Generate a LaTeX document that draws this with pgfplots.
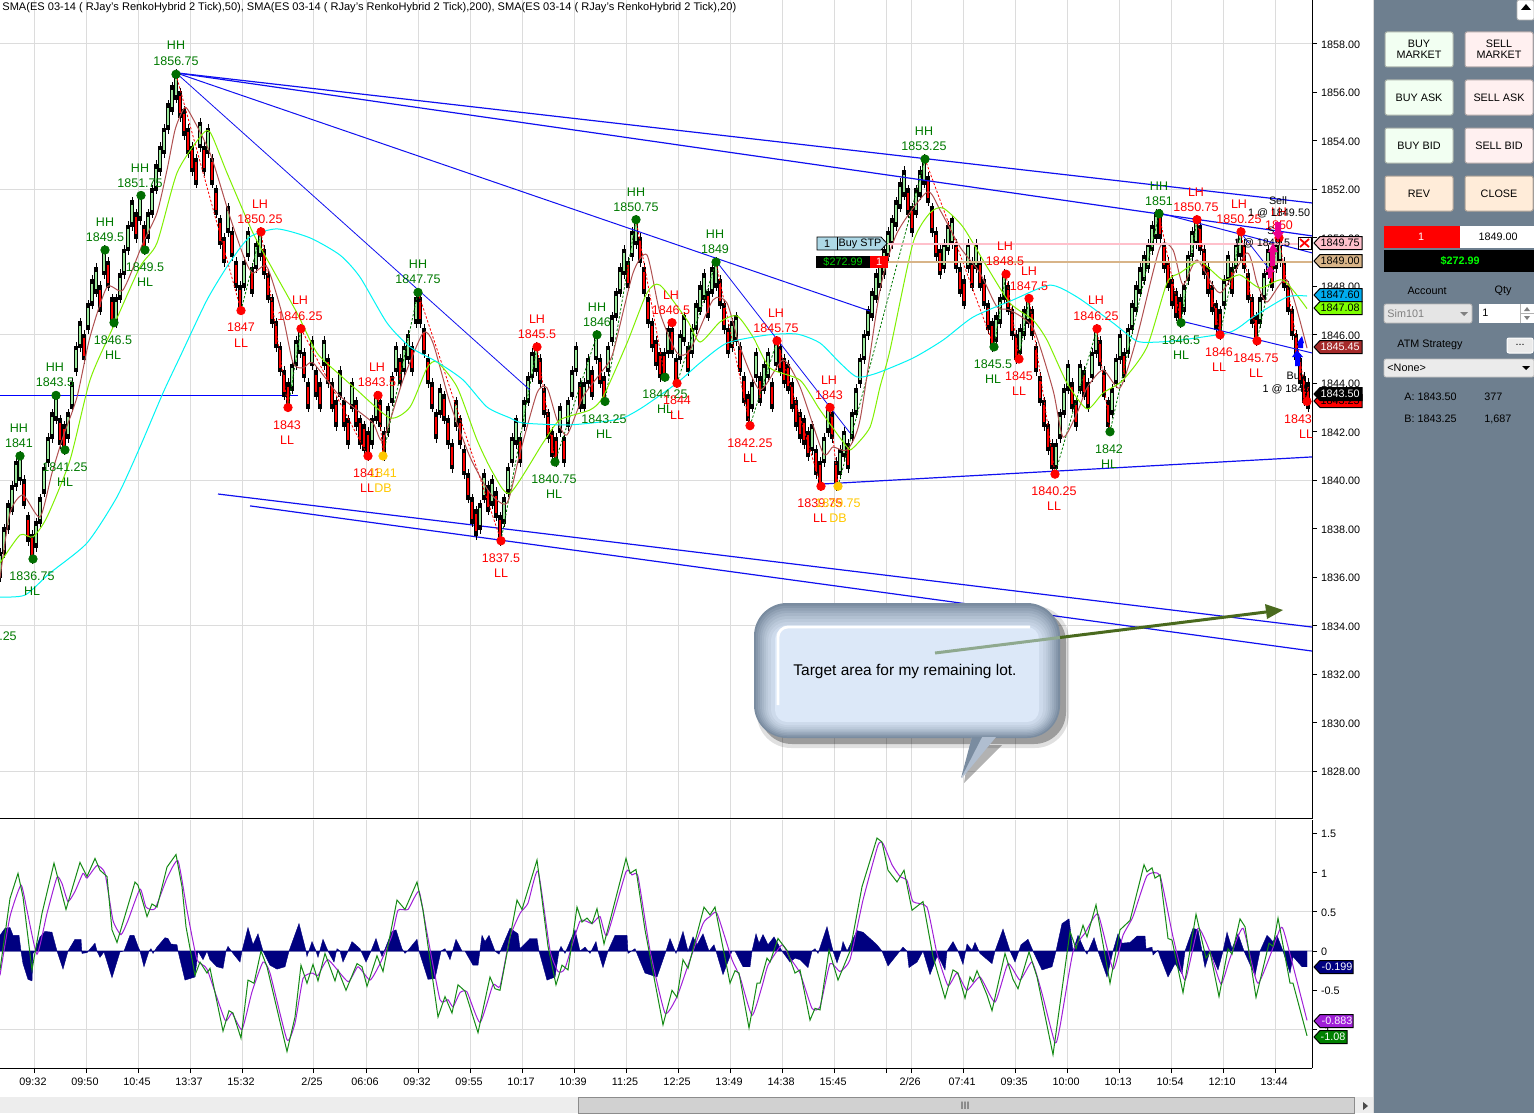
\documentclass[border=0pt]{standalone}
\usepackage{pgfplots}
\usepackage{pgfplotstable}
\usepackage{fontspec}
\setmainfont{Liberation Sans}
\pgfplotsset{compat=1.18}
\definecolor{gridc}{HTML}{DCDCDC}
\definecolor{hh}{HTML}{007A00}
\definecolor{ll}{HTML}{FF0000}
\definecolor{db}{HTML}{FFC800}
\definecolor{mk}{HTML}{006E00}
\definecolor{upc}{HTML}{9BE89B}
\definecolor{brownl}{HTML}{B05050}
\definecolor{limel}{HTML}{80F000}
\definecolor{cyanl}{HTML}{00F5F5}
\definecolor{bluel}{HTML}{1010F0}
\definecolor{navyh}{HTML}{000080}
\definecolor{purp}{HTML}{A020D8}
\definecolor{greenl}{HTML}{158A15}
\definecolor{zero}{HTML}{C4C4D8}
\definecolor{panel}{HTML}{6E7F8F}
\definecolor{bubo}{HTML}{7A8CA0}
\definecolor{bubi}{HTML}{DCE8F8}
\definecolor{pinkl}{HTML}{FFC0CB}
\definecolor{tanl}{HTML}{D8B488}
\definecolor{browntag}{HTML}{A52A2A}
\definecolor{lblue}{HTML}{ADD8E6}
\definecolor{arrowg}{HTML}{4A6A1E}
\definecolor{arrowp}{HTML}{8FA98F}
\definecolor{limetag}{HTML}{7FFF00}

% renko bars, x in bar position on the time axis, p in index points
\pgfplotstableread[row sep=\\]{x p\\
0 1836.5\\4 1837.5\\8 1838.5\\12 1839.25\\16 1840.25\\20 1840.5\\
36 1837.75\\40 1838.75\\44 1840\\48 1841.25\\52 1842.25\\56 1843\\
68 1842.25\\72 1843.5\\76 1845\\80 1846\\88 1846.75\\92 1847.75\\96 1848.25\\104 1849\\
116 1847\\120 1848\\124 1849\\128 1850\\132 1851\\140 1851.25\\
148 1850.5\\152 1851.5\\156 1852.5\\160 1853.25\\164 1854\\168 1855\\172 1855.75\\176 1856.25\\
200 1854.25\\208 1854\\228 1850.75\\244 1848.5\\248 1849.75\\256 1849.25\\260 1849.75\\
292 1844.25\\296 1845.25\\300 1845.75\\312 1845.25\\324 1845.25\\340 1844\\352 1843.5\\
372 1842\\376 1843\\388 1842.5\\392 1843.75\\396 1845\\404 1845\\408 1845.5\\416 1847\\
440 1843.25\\456 1842.75\\480 1838.5\\484 1839.75\\492 1839.5\\
504 1838.75\\508 1840\\512 1841.25\\516 1842\\524 1842.75\\528 1843.75\\532 1844.75\\536 1845\\
560 1842.5\\568 1842.75\\572 1844\\576 1845\\584 1843.5\\588 1844.5\\596 1845.5\\
608 1845\\612 1846.25\\616 1847.25\\620 1848.25\\624 1849\\632 1849.75\\636 1850.25\\
668 1845.75\\680 1845.5\\684 1846.25\\692 1845.75\\696 1846.75\\700 1847.5\\704 1848\\712 1848.25\\716 1848.5\\
732 1846\\736 1846.25\\752 1843.5\\756 1844.75\\764 1844.25\\768 1844.75\\776 1845.25\\
812 1841.75\\824 1841.25\\828 1842.5\\840 1840.75\\844 1841.5\\
852 1842.25\\856 1843.25\\860 1844.5\\864 1845.5\\868 1846.5\\872 1847.25\\876 1848\\880 1848.5\\884 1849\\888 1849.75\\892 1850.25\\896 1851\\900 1851.75\\904 1852.25\\
916 1851.5\\920 1852.25\\924 1852.75\\944 1849.25\\948 1850\\952 1850.25\\968 1849.25\\976 1849.25\\
996 1846.25\\1000 1847\\1004 1848\\1020 1845.75\\1024 1846.5\\1028 1847\\
1056 1841\\1060 1842.25\\1064 1843.25\\1068 1844.25\\1080 1844.25\\1092 1844.75\\1096 1845.75\\
1112 1843.25\\1116 1844.5\\1120 1845.5\\1128 1845.75\\1132 1846.75\\1136 1847.5\\1140 1848.25\\1144 1848.75\\1148 1849.25\\1152 1850\\1156 1850.5\\
1184 1847.5\\1188 1848.75\\1192 1849.75\\1196 1850.25\\1224 1847.75\\1228 1848.75\\1236 1849.25\\1240 1849.75\\
1260 1847\\1264 1848\\1268 1849\\1276 1849.25\\1280 1849.5\\
}\upbars
\pgfplotstableread[row sep=\\]{x p\\
24 1839.5\\28 1838\\32 1837.25\\60 1842\\64 1841.75\\84 1845.5\\100 1847.5\\108 1848.5\\112 1847\\136 1850.5\\144 1850\\
180 1855.5\\184 1854.75\\188 1854\\192 1853.25\\196 1852.75\\204 1853.25\\212 1852.75\\216 1851.5\\220 1850.25\\224 1849.5\\
232 1849.75\\236 1848.5\\240 1847.5\\252 1848.25\\264 1849\\268 1848\\272 1847\\276 1846\\280 1845\\284 1844\\288 1843.5\\
304 1844.75\\308 1843.5\\316 1844\\320 1843.5\\328 1844.5\\332 1843.5\\336 1842.75\\344 1842.75\\348 1842\\
356 1842.75\\360 1842\\364 1841.75\\368 1841.5\\380 1842.75\\384 1841.5\\400 1844.5\\412 1845\\
420 1847\\424 1845.75\\428 1844.5\\432 1843.5\\436 1842.25\\444 1843\\448 1842\\452 1841\\
460 1842\\464 1840.75\\468 1839.75\\472 1838.75\\476 1838.25\\488 1839.25\\496 1839\\500 1838\\
520 1841.25\\540 1844.5\\544 1843.25\\548 1842.25\\552 1841.5\\556 1841.25\\564 1841.25\\580 1843.5\\592 1844\\600 1844.5\\604 1843.75\\
628 1848.5\\640 1849.5\\644 1848.25\\648 1847\\652 1846\\656 1845.25\\660 1844.75\\664 1844.75\\672 1845.75\\676 1844.5\\688 1845\\708 1847.25\\
720 1847.75\\724 1846.75\\728 1845.75\\740 1845\\744 1843.75\\748 1843\\760 1843.75\\772 1843.5\\
780 1845\\784 1844.5\\788 1844.25\\792 1843.5\\796 1842.75\\800 1842.25\\804 1842\\808 1841.5\\816 1840.75\\820 1840.25\\832 1842.25\\836 1840.25\\848 1841\\
908 1851.5\\912 1850.75\\928 1852\\932 1850.75\\936 1849.75\\940 1849\\956 1849.25\\960 1848.25\\964 1847.75\\972 1848.5\\
980 1848.5\\984 1847.75\\988 1846.75\\992 1846\\1008 1847.5\\1012 1846.5\\1016 1845.5\\
1032 1846.5\\1036 1845\\1040 1843.75\\1044 1842.75\\1048 1841.75\\1052 1841\\1072 1843.5\\1076 1842.75\\1084 1844\\1088 1843.5\\
1100 1845.25\\1104 1844\\1108 1842.75\\1124 1844.75\\1160 1850.5\\1164 1849.25\\1168 1848.5\\1172 1847.75\\1176 1847.25\\1180 1847\\
1200 1850\\1204 1849\\1208 1848.25\\1212 1847.5\\1216 1846.75\\1220 1846.5\\1232 1848.25\\1244 1849.25\\1248 1848\\1252 1847\\1256 1846.25\\
1272 1848.5\\1284 1848.5\\1288 1847.5\\1292 1846.5\\1296 1845.5\\1300 1844.5\\1304 1843.75\\1308 1843.5\\
}\downbars

\pgfplotstableread[row sep=\\]{x p\\
0 1835.18\\25 1835.26\\50 1836.17\\87 1837.41\\117 1839.31\\140 1841.37\\163 1843.60\\180 1845.09\\207 1847.44\\230 1849.00\\250 1850.04\\277 1850.37\\310 1850.00\\340 1849.29\\360 1848.38\\387 1846.49\\410 1845.50\\437 1844.88\\463 1844.14\\487 1843.02\\510 1842.57\\523 1842.36\\567 1842.28\\600 1842.40\\623 1842.57\\643 1843.02\\677 1844.01\\700 1844.84\\727 1845.66\\767 1845.99\\797 1846.03\\820 1845.66\\840 1844.84\\857 1844.26\\877 1844.42\\913 1845.04\\943 1845.78\\973 1846.73\\1013 1847.44\\1050 1848.05\\1077 1847.56\\1113 1846.49\\1137 1845.74\\1157 1845.70\\1180 1845.78\\1230 1846.11\\1253 1846.73\\1287 1847.56\\1307 1847.60\\
}\smatwo
\pgfplotstableread[row sep=\\]{x p\\
0 1836.58\\20 1837.74\\33 1837.66\\47 1838.48\\70 1840.83\\90 1844.13\\113 1846.31\\140 1848.80\\157 1849.79\\177 1852.68\\200 1854.16\\210 1854.37\\227 1852.68\\253 1850.20\\273 1848.68\\297 1846.90\\317 1845.25\\340 1844.34\\357 1843.72\\390 1842.57\\410 1843.02\\427 1844.63\\437 1844.88\\457 1843.85\\477 1841.66\\493 1840.30\\510 1839.47\\543 1841.54\\560 1842.49\\590 1842.90\\603 1843.44\\627 1845.66\\647 1847.73\\660 1848.05\\687 1846.61\\700 1845.70\\720 1846.53\\737 1846.78\\753 1845.91\\770 1844.63\\800 1844.13\\820 1842.90\\847 1841.37\\853 1841.33\\870 1842.19\\880 1843.85\\890 1845.37\\913 1849.79\\930 1851.03\\943 1851.23\\963 1850.45\\987 1848.80\\1010 1847.31\\1033 1846.61\\1047 1845.78\\1067 1844.01\\1087 1842.94\\1103 1843.60\\1123 1844.13\\1147 1845.50\\1167 1848.14\\1180 1848.55\\1200 1849.01\\1223 1848.26\\1240 1848.47\\1260 1847.93\\1283 1848.26\\1307 1847.08\\
}\smafifty
\pgfplotstableread[row sep=\\]{x p\\
0 1835.96\\10 1838.65\\23 1839.39\\40 1838.48\\52 1840.30\\63 1841.78\\77 1843.43\\90 1845.91\\107 1847.97\\123 1847.85\\143 1849.79\\157 1851.03\\167 1852.8\\175 1854.45\\183 1855.28\\188 1855.28\\210 1853.50\\230 1850.86\\245 1849.09\\253 1848.55\\267 1848.80\\283 1846.73\\293 1844.84\\303 1844.63\\313 1844.84\\337 1843.60\\353 1843.02\\373 1842.36\\383 1841.66\\403 1844.13\\423 1846.07\\433 1845.66\\450 1843.19\\470 1840.96\\490 1839.47\\507 1839.06\\520 1841.12\\537 1843.60\\547 1843.81\\557 1842.49\\567 1841.87\\583 1843.44\\603 1844.55\\613 1845.25\\633 1848.55\\647 1849.29\\660 1846.90\\677 1845.25\\690 1845.37\\713 1847.44\\727 1847.31\\740 1845.50\\760 1843.72\\783 1844.96\\800 1843.85\\823 1841.12\\833 1841.37\\847 1841.25\\860 1842.49\\880 1847.85\\897 1850.20\\927 1851.89\\940 1851.15\\960 1849.62\\980 1848.55\\997 1847.15\\1010 1847.02\\1033 1846.28\\1053 1843.72\\1063 1841.78\\1077 1842.77\\1087 1843.81\\1103 1844.55\\1120 1843.81\\1137 1845.91\\1160 1849.62\\1173 1849.50\\1183 1848.06\\1197 1849.09\\1220 1847.73\\1247 1849.38\\1257 1848.14\\1267 1847.35\\1287 1848.26\\1307 1845.45\\
}\smatwenty

% oscillator panel
\pgfplotstableread[row sep=\\]{x v\\
0 .20\\5 .29\\10 .30\\13 .20\\19 .20\\21 0\\23 -.16\\28 -.36\\32 -.38\\33 -.03\\35 0\\40 .18\\45 .25\\52 .24\\57 0\\63 -.23\\68 0\\75 .15\\81 .15\\82 -.03\\87 -.02\\95 .10\\97 0\\100 -.08\\104 -.01\\112 -.34\\120 -.01\\124 0\\130 .20\\134 .20\\138 .06\\140 0\\144 -.20\\149 0\\151 .03\\153 -.03\\157 .05\\165 .17\\168 .16\\171 .09\\177 .08\\178 0\\185 -.37\\195 -.33\\198 0\\203 -.11\\207 0\\210 -.11\\217 -.2\\223 -.22\\226 0\\228 .06\\233 -.03\\240 -.14\\242 0\\248 .30\\253 .08\\258 .22\\263 0\\270 -.18\\277 -.23\\285 -.2\\289 0\\299 .35\\306 0\\307 -.07\\312 .12\\316 0\\318 -.08\\323 .15\\328 0\\334 -.14\\337 .03\\340 0\\343 -.14\\348 0\\352 .12\\360 .03\\366 -.14\\371 0\\376 .16\\380 0\\382 -.07\\392 .25\\396 .27\\402 .03\\405 -.03\\408 .01\\417 .15\\419 0\\428 -.36\\435 -.35\\441 0\\445 .03\\450 -.11\\456 .15\\462 0\\465 0\\473 -.18\\478 -.18\\482 .2\\485 .12\\489 .2\\495 0\\499 -.04\\
510 .29\\518 .22\\520 .03\\530 .16\\537 .16\\539 0\\547 -.37\\555 -.33\\559 0\\561 .06\\565 -.03\\575 .27\\580 0\\585 .05\\590 -.03\\596 .12\\598 0\\603 -.21\\608 0\\615 .2\\627 .2\\628 -.03\\635 .03\\645 -.28\\657 -.33\\666 0\\670 .16\\676 -.03\\683 .25\\688 0\\693 .18\\697 .08\\703 .22\\709 0\\714 .08\\716 0\\723 -.3\\732 0\\735 0\\743 -.2\\750 -.2\\752 0\\756 .22\\759 .1\\763 .21\\768 .08\\774 .18\\782 0\\790 -.14\\795 -.09\\800 -.11\\808 -.21\\812 0\\815 .03\\818 -.03\\827 .31\\833 0\\837 -.15\\841 0\\843 .12\\847 0\\857 .26\\863 .24\\877 .08\\882 0\\888 -.19\\898 -.03\\903 .05\\907 0\\909 -.21\\917 -.14\\923 0\\930 -.3\\937 -.07\\940 -.11\\945 -.24\\947 0\\953 .12\\958 0\\963 -.17\\967 .09\\972 .01\\975 .11\\980 -.03\\992 -.16\\995 0\\1003 .28\\1010 0\\1015 -.14\\1021 .08\\1028 .15\\1033 0\\1042 -.24\\1052 -.2\\1056 0\\1062 .35\\1069 .41\\1073 0\\1078 .2\\1085 0\\1087 -.04\\1094 .17\\1098 0\\1107 -.33\\1113 0\\1118 .22\\1122 .1\\1130 .11\\1137 .19\\1145 .19\\1146 .03\\1152 .05\\1153 -.05\\1158 .01\\1160 -.07\\1168 -.33\\1175 -.16\\1182 -.29\\1185 0\\1193 .29\\1198 .27\\1202 0\\1205 -.21\\1210 0\\1218 -.24\\1223 0\\1227 .24\\1232 .03\\1238 .22\\1244 0\\1255 -.31\\1260 0\\1267 .2\\1273 .12\\1277 .2\\1283 0\\1290 -.28\\1293 -.07\\1302 -.2\\1307 -.2\\
}\osch
\pgfplotstableread[row sep=\\]{x v\\
0 -.24\\10 .67\\18 .99\\23 .69\\32 -.24\\42 .48\\54 1.12\\66 .53\\80 1.13\\87 .95\\95 1.18\\100 1.03\\107 .95\\112 .27\\117 .11\\135 .88\\138 .84\\147 .44\\152 .6\\157 .56\\167 1.07\\176 1.23\\182 .82\\186 .31\\195 -.31\\200 -.14\\207 -.28\\210 -.22\\223 -1.02\\229 -.76\\233 -.79\\241 -1.11\\248 -.37\\254 -.41\\261 0\\267 -.2\\287 -1.28\\295 -.84\\301 -.18\\307 -.41\\313 -.17\\318 -.38\\325 -.03\\335 -.38\\338 -.24\\346 -.5\\357 -.16\\362 -.2\\367 -.45\\377 -.06\\383 -.26\\397 .65\\405 .53\\417 .88\\423 .52\\438 -.84\\445 -.58\\452 -.79\\458 -.43\\465 -.51\\478 -1.04\\490 -.33\\495 -.48\\500 -.5\\
517 .65\\522 .53\\537 1.16\\548 .06\\556 -.43\\562 -.18\\568 -.24\\577 .56\\582 .37\\587 .42\\592 .35\\597 .54\\604 .09\\626 1.18\\630 .99\\636 1.04\\645 .27\\663 -.94\\672 -.5\\677 -.59\\683 -.11\\688 -.22\\704 .56\\710 .46\\715 .56\\730 -.41\\735 -.25\\739 -.28\\749 -.98\\757 -.41\\760 -.41\\767 -.09\\770 -.14\\778 .16\\787 .01\\795 -.28\\800 -.24\\810 -.88\\815 -.73\\820 -.75\\829 .01\\838 -.37\\850 0\\862 .82\\877 1.44\\882 1.39\\888 1.03\\897 .88\\904 1.03\\912 .52\\923 .63\\933 -.07\\945 -.6\\953 -.24\\958 -.28\\965 -.6\\970 -.33\\973 -.39\\977 -.25\\987 -.56\\992 -.76\\1005 -.03\\1013 -.36\\1018 -.48\\1029 -.01\\1037 -.33\\1053 -1.32\\1070 .25\\1076 .03\\1083 .33\\1087 .18\\1096 .59\\1110 -.41\\1120 .27\\1130 .39\\1144 1.1\\1147 1.01\\1152 1.06\\1155 .93\\1160 .97\\1168 .16\\1172 .14\\1183 -.53\\1196 .47\\1206 -.09\\1210 -.01\\1219 -.58\\1228 .03\\1232 -.04\\1240 .41\\1245 .31\\1256 -.59\\1269 .1\\1273 .06\\1278 .42\\1290 -.41\\1293 -.41\\1307 -1.08\\
}\oscg
\pgfplotstableread[row sep=\\]{x v\\
0 -.31\\10 .44\\21 .84\\27 .52\\37 -.04\\47 .48\\57 .94\\62 .86\\68 .63\\75 .76\\83 .99\\87 .93\\97 1.09\\105 .99\\113 .39\\121 .21\\128 .39\\140 .79\\146 .56\\155 .54\\167 .93\\178 1.15\\187 .52\\197 -.11\\207 -.23\\225 -.88\\232 -.79\\242 -1\\252 -.52\\263 -.14\\270 -.28\\287 -1.13\\295 -.92\\303 -.35\\312 -.28\\318 -.31\\328 -.11\\348 -.39\\358 -.2\\370 -.37\\380 -.16\\392 .2\\398 .52\\408 .53\\419 .76\\427 .23\\440 -.62\\448 -.62\\453 -.71\\460 -.53\\467 -.52\\480 -.91\\493 -.43\\500 -.45\\
510 .18\\520 .48\\528 .61\\538 1.02\\550 .01\\558 -.26\\565 -.22\\580 .38\\592 .35\\600 .44\\607 .2\\626 1.01\\632 .97\\638 .95\\650 .01\\665 -.79\\677 -.58\\687 -.22\\703 .35\\710 .44\\717 .48\\732 -.11\\740 -.33\\752 -.82\\762 -.45\\768 -.18\\782 .08\\790 -.09\\800 -.28\\812 -.73\\820 -.71\\830 -.16\\840 -.26\\850 -.11\\863 .65\\878 1.35\\883 1.37\\892 1.1\\900 .95\\907 .9\\913 .63\\927 .56\\937 -.03\\948 -.44\\957 -.28\\967 -.5\\980 -.33\\995 -.65\\1008 -.16\\1020 -.37\\1032 -.14\\1042 -.54\\1055 -1.17\\1060 -.96\\1073 -.01\\1085 .23\\1098 .47\\1113 -.23\\1123 .2\\1133 .44\\1147 .96\\1160 .96\\1173 .18\\1185 -.37\\1198 .29\\1210 -.01\\1221 -.42\\1230 -.09\\1243 .29\\1258 -.41\\1280 .28\\1285 .2\\1307 -.883\\
}\oscp

\newcommand{\lf}{\fontsize{6.25}{7}\selectfont}
\newcommand{\tf}{\fontsize{5.4}{6}\selectfont}
\newcommand{\lab}[4]{\node[font=\lf,text=#3,inner sep=0pt] at (#1,#2) {#4};}
\newcommand{\two}[6]{\lab{#1}{#2}{#4}{#5}\lab{#1}{#3}{#4}{#6}}
\newcommand{\pricetag}[6]{\filldraw[fill=#3,draw=black,line width=0.5pt] (1314,#1) -- (1320,#1-6.5) -- (#2,#1-6.5) -- (#2,#1+6.5) -- (1320,#1+6.5) -- cycle;
 \node[font=\tf,text=#4,inner sep=0pt] at (#5,#1) {#6};}
\newcommand{\btn}[6]{\filldraw[fill=#5,draw=#5!70!black,line width=0.5pt,rounded corners=1pt] (#1,#2) rectangle (#3,#4);
 \node[font=\tf,align=center,text=black,inner sep=0pt] at ({(#1+#3)/2},{(#2+#4)/2}) {#6};}
\newcommand{\bub}[5]{\fill[#5,rounded corners=#4pt] (754+#1,603+#2) rectangle (1060-#1,738-#3);}

\begin{document}
\begin{tikzpicture}
\path[use as bounding box,fill=white] (0,0) rectangle (767pt,556.5pt);

% price panel
\begin{axis}[
  at={(0pt,147pt)},anchor=south west,scale only axis,width=656pt,height=409.5pt,
  xmin=0,xmax=1312,ymin=1826.02,ymax=1859.816,
  axis x line=bottom,axis y line=right,axis line style={black,line width=0.5pt,-},
  xtick={34,86,138,190,242,313,366,418,470,522,574,626,678,730,782,834,886,911,963,1015,1067,1119,1171,1223,1275},
  xticklabels={},xtick style={draw=none},
  xmajorgrids,grid style={gridc,line width=0.5pt},
  ytick={1828,1830,...,1858},
  yticklabels={1828.00,1830.00,1832.00,1834.00,1836.00,1838.00,1840.00,1842.00,1844.00,1846.00,1848.00,1850.00,1852.00,1854.00,1856.00,1858.00},
  ytick style={black,line width=0.5pt},major tick length=2.5pt,tick align=outside,
  yticklabel style={font=\tf,xshift=-1.5pt,yshift=-0.4pt},
  extra y ticks={1828,1834,1840,1846,1852,1858},extra y tick labels={},
  extra y tick style={ymajorgrids=true,grid style={gridc,line width=0.5pt},major tick length=0pt},
  clip=true]
 \addplot[blue,line width=0.6pt,forget plot] coordinates {(0,1843.5)(298,1843.5)};
 \addplot[bluel,line width=0.6pt,forget plot] coordinates {(218,1839.43)(1312,1833.94)};
 \addplot[bluel,line width=0.6pt,forget plot] coordinates {(250,1838.94)(1312,1832.95)};
 \addplot[draw=none,no markers,forget plot,error bars/.cd,y dir=both,y fixed=0.7,error mark=none,error bar style={black,line width=0.4pt}] table[x=x,y=p] {\upbars};
 \addplot[draw=none,no markers,forget plot,error bars/.cd,y dir=both,y fixed=0.7,error mark=none,error bar style={black,line width=0.4pt}] table[x=x,y=p] {\downbars};
 \addplot[draw=none,no markers,forget plot,error bars/.cd,y dir=both,y fixed=0.55,error mark=none,error bar style={black,line width=2.3pt}] table[x=x,y=p] {\upbars};
 \addplot[draw=none,no markers,forget plot,error bars/.cd,y dir=both,y fixed=0.55,error mark=none,error bar style={black,line width=2.3pt}] table[x=x,y=p] {\downbars};
 \addplot[draw=none,no markers,forget plot,error bars/.cd,y dir=both,y fixed=0.36,error mark=none,error bar style={upc,line width=0.7pt}] table[x=x,y=p] {\upbars};
 \addplot[draw=none,no markers,forget plot,error bars/.cd,y dir=both,y fixed=0.36,error mark=none,error bar style={red,line width=0.9pt}] table[x=x,y=p] {\downbars};
 % swing legs
 \addplot[unbounded coords=jump,red,line width=0.4pt,dash pattern=on 1.2pt off 0.9pt,forget plot] coordinates {(176,1856.75)(241,1847)(nan,nan)(261,1850.25)(288,1843)(nan,nan)(301,1846.25)(368,1841)(nan,nan)(378,1843.5)(383,1841)(nan,nan)(418,1847.75)(501,1837.5)(nan,nan)(537,1845.5)(555,1840.75)(nan,nan)(636,1850.75)(665,1844.25)(nan,nan)(716,1849)(750,1842.25)(nan,nan)(777,1845.75)(821,1839.75)(nan,nan)(830,1843)(838,1839.75)(nan,nan)(925,1853.25)(994,1845.5)(nan,nan)(1006,1848.5)(1019,1845)(nan,nan)(1029,1847.5)(1055,1840.25)(nan,nan)(1097,1846.25)(1110,1842)(nan,nan)(1159,1851)(1181,1846.5)(nan,nan)(1197,1850.75)(1220,1846)(nan,nan)(1241,1850.25)(1257,1845.75)(nan,nan)(1279,1850)(1307,1843.25)};
 \addplot[unbounded coords=jump,hh,line width=0.4pt,dash pattern=on 1.2pt off 0.9pt,forget plot] coordinates {(241,1847)(261,1850.25)(nan,nan)(288,1843)(301,1846.25)(nan,nan)(383,1841)(418,1847.75)(nan,nan)(501,1837.5)(537,1845.5)(nan,nan)(555,1840.75)(597,1846)(nan,nan)(605,1843.25)(636,1850.75)(nan,nan)(677,1844)(716,1849)(nan,nan)(750,1842.25)(777,1845.75)(nan,nan)(838,1839.75)(925,1853.25)(nan,nan)(994,1845.5)(1006,1848.5)(nan,nan)(1019,1845)(1029,1847.5)(nan,nan)(1055,1840.25)(1097,1846.25)(nan,nan)(1110,1842)(1159,1851)(nan,nan)(1181,1846.5)(1197,1850.75)(nan,nan)(1220,1846)(1241,1850.25)(nan,nan)(1257,1845.75)(1279,1850)};
 % moving averages
 \addplot[brownl,line width=0.5pt,smooth,tension=0.4,forget plot] table[x=x,y=p] {\smatwenty};
 \addplot[limel,line width=0.5pt,smooth,tension=0.4,forget plot] table[x=x,y=p] {\smafifty};
 \addplot[cyanl,line width=0.5pt,smooth,tension=0.4,forget plot] table[x=x,y=p] {\smatwo};
 % trend lines
 \addplot[bluel,line width=0.6pt,forget plot] coordinates {(176,1856.81)(1312,1851.44)};
 \addplot[bluel,line width=0.6pt,forget plot] coordinates {(176,1856.81)(1312,1850.08)};
 \addplot[bluel,line width=0.5pt,forget plot] coordinates {(176,1856.81)(870,1846.98)};
 \addplot[bluel,line width=0.4pt,forget plot] coordinates {(176,1856.81)(530,1843.72)};
 \addplot[bluel,line width=0.4pt,forget plot] coordinates {(716,1849.05)(850,1841.95)};
 \addplot[bluel,line width=0.5pt,forget plot] coordinates {(1159,1851.03)(1312,1849.38)};
 \addplot[bluel,line width=0.5pt,forget plot] coordinates {(1181,1846.57)(1312,1845.25)};
 \addplot[bluel,line width=0.4pt,forget plot] coordinates {(1241,1850.2)(1270,1848.67)};
 \addplot[bluel,line width=0.6pt,forget plot] coordinates {(821,1839.84)(1312,1840.96)};
 % order lines
 \addplot[pinkl,line width=1pt,forget plot] coordinates {(888,1849.75)(1312,1849.75)};
 \addplot[tanl,line width=1pt,forget plot] coordinates {(888,1849)(1312,1849)};
 % swing points
 \addplot[only marks,mark=*,mark size=2.1pt,mk,forget plot] coordinates {(20,1841)(33,1836.75)(56,1843.5)(65,1841.25)(105,1849.5)(114,1846.5)(141,1851.75)(145,1849.5)(176,1856.75)(418,1847.75)(555,1840.75)(597,1846)(605,1843.25)(636,1850.75)(665,1844.25)(716,1849)(925,1853.25)(994,1845.5)(1110,1842)(1159,1851)(1181,1846.5)};
 \addplot[only marks,mark=*,mark size=2.1pt,red,forget plot] coordinates {(241,1847)(261,1850.25)(288,1843)(301,1846.25)(368,1841)(378,1843.5)(501,1837.5)(537,1845.5)(672,1846.5)(677,1844)(750,1842.25)(777,1845.75)(821,1839.75)(830,1843)(1006,1848.5)(1019,1845)(1029,1847.5)(1055,1840.25)(1097,1846.25)(1197,1850.75)(1220,1846)(1241,1850.25)(1257,1845.75)(1279,1850)(1307,1843.25)};
 \addplot[only marks,mark=*,mark size=2.1pt,db,forget plot] coordinates {(383,1841)(838,1839.75)};
\end{axis}

% oscillator panel
\begin{axis}[
  at={(0pt,22.5pt)},anchor=south west,scale only axis,width=656pt,height=124pt,
  xmin=0,xmax=1312,ymin=-1.49,ymax=1.67,
  axis x line=bottom,axis y line=right,axis line style={black,line width=0.5pt,-},
  xtick={34,86,138,190,242,313,366,418,470,522,574,626,678,730,782,834,886,911,963,1015,1067,1119,1171,1223,1275},
  xticklabels={09:32,09:50,10:45,13:37,15:32,2/25,06:06,09:32,09:55,10:17,10:39,11:25,12:25,13:49,14:38,15:45,,2/26,07:41,09:35,10:00,10:13,10:54,12:10,13:44},
  xticklabel style={font=\tf,xshift=-0.5pt,yshift=1pt},
  xmajorgrids,grid style={gridc,line width=0.5pt},
  ytick={-1,-0.5,0,0.5,1,1.5},yticklabels={-1,-0.5,0,0.5,1,1.5},
  yticklabel style={font=\tf,xshift=-1.5pt,yshift=-0.4pt},
  tick style={black,line width=0.5pt},major tick length=2.5pt,tick align=outside,
  extra y ticks={-1,0.5},extra y tick labels={},
  extra y tick style={ymajorgrids=true,grid style={gridc,line width=0.5pt},major tick length=0pt},
  clip=true]
 \addplot[zero,line width=1pt,forget plot] coordinates {(0,0)(1312,0)};
 \addplot[fill=navyh,draw=navyh,line width=0.2pt,forget plot] table[x=x,y=v] {\osch} \closedcycle;
 \addplot[purp,line width=0.5pt,smooth,tension=0.3,forget plot] table[x=x,y=v] {\oscp};
 \addplot[greenl,line width=0.5pt,forget plot] table[x=x,y=v] {\oscg};
\end{axis}

% annotations, in picture pixels
\begin{axis}[
  at={(0pt,0pt)},anchor=south west,scale only axis,width=767pt,height=556.5pt,
  xmin=0,xmax=1534,ymin=0,ymax=1113,y dir=reverse,hide axis,clip=false]
 \node[font=\fontsize{5.53}{6}\selectfont,anchor=west,inner sep=0pt,text=black] at (2,8) {SMA(ES 03-14 ( RJay's RenkoHybrid  2 Tick),50), SMA(ES 03-14 ( RJay's RenkoHybrid  2 Tick),200), SMA(ES 03-14 ( RJay's RenkoHybrid  2 Tick),20)};
 % labels
 \two{19}{428}{443}{hh}{HH}{1841}
 \two{55}{367}{382}{hh}{HH}{1843.5}
 \two{65}{467}{482}{hh}{1841.25}{HL}
 \two{32}{576}{591}{hh}{1836.75}{HL}
 \two{105}{222}{237}{hh}{HH}{1849.5}
 \two{113}{340}{355}{hh}{1846.5}{HL}
 \two{140}{168}{183}{hh}{HH}{1851.75}
 \two{145}{267}{282}{hh}{1849.5}{HL}
 \two{176}{45}{61}{hh}{HH}{1856.75}
 \two{260}{204}{219}{ll}{LH}{1850.25}
 \two{241}{327}{343}{ll}{1847}{LL}
 \two{300}{300}{316}{ll}{LH}{1846.25}
 \two{287}{425}{440}{ll}{1843}{LL}
 \two{377}{367}{382}{ll}{LH}{1843.5}
 \two{367}{473}{488}{ll}{1841}{LL}
 \two{383}{473}{488}{db}{1841}{DB}
 \two{418}{264}{279}{hh}{HH}{1847.75}
 \two{501}{558}{573}{ll}{1837.5}{LL}
 \two{537}{319}{334}{ll}{LH}{1845.5}
 \two{554}{479}{494}{hh}{1840.75}{HL}
 \two{597}{307}{322}{hh}{HH}{1846}
 \two{604}{419}{434}{hh}{1843.25}{HL}
 \two{636}{192}{207}{hh}{HH}{1850.75}
 \two{671}{295}{310}{ll}{LH}{1846.5}
 \two{665}{394}{409}{hh}{1844.25}{HL}
 \two{677}{400}{415}{ll}{1844}{LL}
 \two{715}{234}{249}{hh}{HH}{1849}
 \two{776}{313}{328}{ll}{LH}{1845.75}
 \two{750}{443}{458}{ll}{1842.25}{LL}
 \two{829}{380}{395}{ll}{LH}{1843}
 \two{820}{503}{518}{ll}{1839.75}{LL}
 \two{838}{503}{518}{db}{1839.75}{DB}
 \two{924}{131}{146}{hh}{HH}{1853.25}
 \two{1005}{246}{261}{ll}{LH}{1848.5}
 \two{1029}{271}{286}{ll}{LH}{1847.5}
 \two{993}{364}{379}{hh}{1845.5}{HL}
 \two{1019}{376}{391}{ll}{1845}{LL}
 \two{1096}{300}{316}{ll}{LH}{1846.25}
 \two{1054}{491}{506}{ll}{1840.25}{LL}
 \two{1109}{449}{464}{hh}{1842}{HL}
 \two{1159}{186}{201}{hh}{HH}{1851}
 \two{1196}{192}{207}{ll}{LH}{1850.75}
 \two{1181}{340}{355}{hh}{1846.5}{HL}
 \two{1239}{204}{219}{ll}{LH}{1850.25}
 \two{1219}{352}{367}{ll}{1846}{LL}
 \two{1256}{358}{373}{ll}{1845.75}{LL}
 \two{1279}{212}{225}{ll}{LH}{1850}
 \lab{1298}{419}{ll}{1843}
 \lab{1306}{434}{ll}{LL}
 \lab{8}{636}{hh}{.25}
 % trade markers and their notes
 \lab{1278}{201}{black}{\tf Sell}
 \lab{1279}{213}{black}{\tf 1 @ 1849.50}
 \lab{1274}{231}{black}{\tf Se}
 \lab{1262}{243}{black}{\tf 1 @ 1849.5}
 \lab{1296}{377}{black}{\tf Buy}
 \lab{1286}{389}{black}{\tf 1 @ 1845}
 \fill[magenta] (1275,222) -- (1281,222) -- (1281,232) -- (1284,232) -- (1278,240) -- (1272,232) -- (1275,232) -- cycle;
 \fill[magenta] (1270,266) -- (1275,266) -- (1275,252) -- (1278,252) -- (1273,243) -- (1268,252) -- (1270,252) -- cycle;
 \fill[magenta] (1268,278) -- (1272,278) -- (1272,272) -- (1275,272) -- (1270,266) -- (1265,272) -- (1268,272) -- cycle;
 \fill[blue] (1295,366) -- (1300,366) -- (1300,357) -- (1303,357) -- (1297,350) -- (1292,357) -- (1295,357) -- cycle;
 \fill[blue] (1298,348) -- (1303,348) -- (1303,343) -- (1304,343) -- (1302,336) -- (1297,343) -- (1298,343) -- cycle;
 \filldraw[fill=white,draw=black,line width=0.4pt] (1298,237) rectangle (1311,249);
 \draw[red,line width=0.9pt] (1300,239) -- (1309,247) (1309,239) -- (1300,247);
 % order flags
 \filldraw[fill=lblue,draw=black,line width=0.4pt] (817,237) -- (881,237) -- (887,243.5) -- (881,250) -- (817,250) -- cycle;
 \draw[black,line width=0.4pt] (837,237) -- (837,250);
 \node[font=\tf,inner sep=0pt] at (827,244) {1};
 \node[font=\tf,inner sep=0pt] at (860,244) {Buy STP};
 \fill[black] (816,256) rectangle (870,268);
 \fill[red] (870,256) rectangle (888,268);
 \node[font=\tf,text=green!80!black,inner sep=0pt] at (843,262) {\$272.99};
 \node[font=\tf,text=white,inner sep=0pt] at (879,262) {1};
 % callout
 \fill[black,opacity=0.12,rounded corners=17pt] (757,606) rectangle (1069,748);
 \fill[black,opacity=0.3,rounded corners=16pt] (760,610) rectangle (1066,744);
 \fill[black,opacity=0.3] (970,745) -- (964,783) -- (1002,745) -- cycle;
 \bub{0}{0}{0}{16.5}{bubo}
 \bub{2}{2.5}{1.5}{15.5}{bubo!88!bubi}
 \bub{4}{5}{3}{14.5}{bubo!76!bubi}
 \bub{6}{7.5}{4.5}{13.5}{bubo!65!bubi}
 \bub{8}{10}{6}{12.5}{bubo!54!bubi}
 \bub{10}{13}{7.5}{11.5}{bubo!44!bubi}
 \bub{12}{16}{9}{10.5}{bubo!34!bubi}
 \bub{14}{19}{11}{9.5}{bubo!25!bubi}
 \bub{17}{22}{13}{8}{bubo!15!bubi}
 \bub{21}{24}{16}{6}{bubi}
 \fill[bubo!45!bubi] (972,737) -- (996,737) -- (962,778) -- cycle;
 \fill[bubo] (972,737) -- (982,737) -- (961,778) -- cycle;
 \draw[white,line width=1.4pt,rounded corners=5pt] (778,705) -- (778,627) -- (1030,627);
 \node[font=\fontsize{7.75}{9}\selectfont,anchor=west,inner sep=0pt,text=black] at (793,671) {Target area for my remaining lot.};
 \draw[arrowp,line width=1.5pt] (935,653) -- (1060,637.5);
 \draw[arrowg,line width=1.5pt] (1060,637.5) -- (1266,612);
 \fill[arrowg] (1265,604) -- (1283,610) -- (1267,619) -- cycle;
 % value flags
 \pricetag{243}{1362}{pinkl}{black}{1340}{1849.75}
 \pricetag{261}{1362}{tanl}{black}{1340}{1849.00}
 \pricetag{295}{1362}{cyan}{black}{1340}{1847.60}
 \pricetag{308}{1362}{limetag}{black}{1340}{1847.08}
 \pricetag{347}{1362}{browntag}{white}{1340}{1845.45}
 \pricetag{401}{1362}{red}{black}{1340}{1843.25}
 \pricetag{394}{1362}{black}{white}{1340}{1843.50}
 \pricetag{967}{1353}{navyh}{white}{1337}{-0.199}
 \pricetag{1021}{1353}{purp}{white}{1337}{-0.883}
 \pricetag{1037}{1347}{green!50!black}{white}{1333}{-1.08}
 % bottom strip
 \fill[black!7] (0,1097) rectangle (1373,1113);
 \filldraw[fill=black!18,draw=black!45,line width=0.4pt] (578,1097) rectangle (1354,1113);
 \node[font=\tf,inner sep=0pt,text=black!70] at (965,1106) {III};
 \fill[black!70] (1363,1102) -- (1368,1106) -- (1363,1110) -- cycle;
 % order panel
 \fill[panel] (1373,0) rectangle (1534,1113);
 \draw[black!15,line width=0.5pt] (1373.5,0) -- (1373.5,1113);
 \filldraw[fill=white,draw=black!30,line width=0.4pt,rounded corners=1pt] (1517,0) rectangle (1534,20);
 \fill[black] (1526,4) -- (1531,10) -- (1521,10) -- cycle;
 \btn{1385}{32}{1453}{67}{green!5!white}{BUY\\[-0.6pt]MARKET}
 \btn{1465}{32}{1533}{67}{red!6!white}{SELL\\[-0.6pt]MARKET}
 \btn{1385}{80}{1453}{115}{green!5!white}{BUY ASK}
 \btn{1465}{80}{1533}{115}{red!6!white}{SELL ASK}
 \btn{1385}{128}{1453}{163}{green!5!white}{BUY BID}
 \btn{1465}{128}{1533}{163}{red!6!white}{SELL BID}
 \btn{1385}{176}{1453}{211}{orange!15!white}{REV}
 \btn{1465}{176}{1533}{211}{orange!15!white}{CLOSE}
 \fill[red] (1384,226) rectangle (1460,248);
 \fill[white] (1460,226) rectangle (1534,248);
 \fill[black] (1384,250) rectangle (1534,272);
 \node[font=\tf,text=white,inner sep=0pt] at (1421,237) {1};
 \node[font=\tf,text=black,inner sep=0pt] at (1498,237) {1849.00};
 \node[font=\tf\bfseries,text=green,inner sep=0pt] at (1460,261) {\$272.99};
 \node[font=\tf,inner sep=0pt] at (1427,291) {Account};
 \node[font=\tf,inner sep=0pt] at (1503,291) {Qty};
 \filldraw[fill=black!10,draw=black!30,line width=0.4pt,rounded corners=1pt] (1384,304) rectangle (1472,323);
 \node[font=\tf,text=black!50,anchor=west,inner sep=0pt] at (1387,314) {Sim101};
 \fill[black!50] (1460,312) -- (1468,312) -- (1464,316) -- cycle;
 \fill[white] (1479,304) rectangle (1534,323);
 \node[font=\tf,anchor=west,inner sep=0pt] at (1482,313) {1};
 \draw[black!30,line width=0.4pt] (1520,304) -- (1520,323) (1520,313.5) -- (1534,313.5);
 \fill[black!50] (1524,311) -- (1530,311) -- (1527,307) -- cycle;
 \fill[black!50] (1524,316) -- (1530,316) -- (1527,320) -- cycle;
 \node[font=\tf,inner sep=0pt] at (1430,345) {ATM Strategy};
 \filldraw[fill=black!8,draw=white,line width=0.5pt,rounded corners=1pt] (1507,338) rectangle (1533,353);
 \node[font=\tf,inner sep=0pt] at (1520,345) {...};
 \filldraw[fill=black!8,draw=black!25,line width=0.4pt,rounded corners=1pt] (1384,359) rectangle (1534,377);
 \node[font=\tf,anchor=west,inner sep=0pt] at (1387,368) {<None>};
 \fill[black] (1522,366) -- (1530,366) -- (1526,370) -- cycle;
 \node[font=\tf,anchor=west,inner sep=0pt] at (1404,397) {A: 1843.50};
 \node[font=\tf,anchor=west,inner sep=0pt] at (1484,397) {377};
 \node[font=\tf,anchor=west,inner sep=0pt] at (1404,419) {B: 1843.25};
 \node[font=\tf,anchor=west,inner sep=0pt] at (1484,419) {1,687};
\end{axis}
\end{tikzpicture}
\end{document}
